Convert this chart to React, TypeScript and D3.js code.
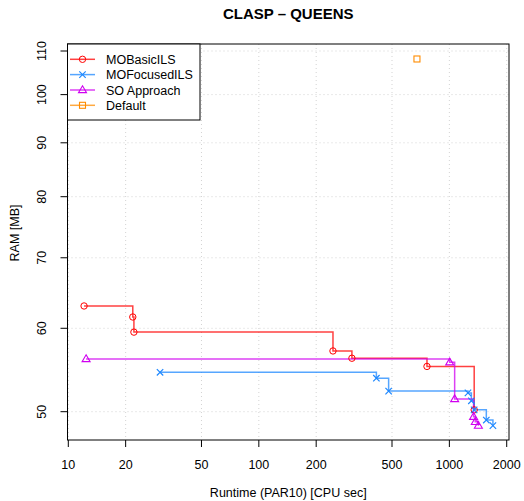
import * as d3 from "d3";

// data (runtime in CPU sec, RAM in MB)
const basicX = [12.1, 21.8, 22.1, 245, 308, 763, 1350];
const basicY = [63.0, 61.5, 59.5, 57.1, 56.2, 55.2, 50.2];
const focusedX = [30.3, 414, 480, 1252, 1305, 1349, 1563, 1693];
const focusedY = [54.5, 53.8, 52.3, 52.1, 51.2, 50.2, 49.1, 48.5];
const soX = [12.4, 1004, 1066, 1340, 1368, 1420];
const soY = [56.1, 55.7, 51.4, 49.45, 48.9, 48.5];
const defaultX = [676];
const defaultY = [108.1];

const xTicks = [10, 20, 50, 100, 200, 500, 1000, 2000];
const yTicks = [50, 60, 70, 80, 90, 100, 110];

const seriesNames = ["MOBasicILS", "MOFocusedILS", "SO Approach", "Default"];
const seriesColors = ["#FF0000", "#1E88FF", "#D000F0", "#FF8C00"];
const seriesShapes = ["circle", "cross", "triangle", "square"];

const W = 524;
const H = 501;
const box = { left: 67.5, right: 509, top: 44, bottom: 440 };
const FONT = "'Liberation Sans', Arial, Helvetica, sans-serif";

type Pt = [number, number];

function Marker({ shape, x, y, color }: { shape: string; x: number; y: number; color: string }) {
  if (shape === "circle")
    return <circle cx={x} cy={y} r={3.2} fill="none" stroke={color} strokeWidth={1} />;
  if (shape === "cross")
    return (
      <path
        d={`M${x - 3.2},${y - 3.2}L${x + 3.2},${y + 3.2}M${x - 3.2},${y + 3.2}L${x + 3.2},${y - 3.2}`}
        stroke={color}
        strokeWidth={1.2}
        fill="none"
      />
    );
  if (shape === "triangle")
    return (
      <path
        d={`M${x},${y - 4.2}L${x + 4},${y + 2.6}L${x - 4},${y + 2.6}Z`}
        stroke={color}
        strokeWidth={1.1}
        fill="none"
      />
    );
  return <rect x={x - 3} y={y - 3} width={6} height={6} stroke={color} strokeWidth={1.1} fill="none" />;
}

export default function App() {
  const x = d3.scaleLog().domain([9.904, 2056]).range([box.left, box.right]);
  const y = d3.scaleLog().domain([47.0, 111.7]).range([box.bottom, box.top]);

  const series: Pt[][] = [
    basicX.map((v, i) => [v, basicY[i]] as Pt),
    focusedX.map((v, i) => [v, focusedY[i]] as Pt),
    soX.map((v, i) => [v, soY[i]] as Pt),
    defaultX.map((v, i) => [v, defaultY[i]] as Pt),
  ];

  const line = d3
    .line<Pt>()
    .x((d) => x(d[0]))
    .y((d) => y(d[1]))
    .curve(d3.curveStepAfter);

  const legendRows = [59.3, 74.6, 90, 105.3];

  return (
    <svg width={W} height={H} style={{ position: "absolute", left: 0, top: 0, background: "#fff" }} fontFamily={FONT}>
      {/* grid */}
      {xTicks.map((t) => (
        <line key={"gx" + t} x1={x(t)} x2={x(t)} y1={box.top} y2={box.bottom} stroke="#d3d3d3" strokeDasharray="1,3" />
      ))}
      {yTicks.map((t) => (
        <line key={"gy" + t} x1={box.left} x2={box.right} y1={y(t)} y2={y(t)} stroke="#d3d3d3" strokeDasharray="1,3" />
      ))}

      {/* step lines */}
      {series.slice(0, 3).map((s, i) => (
        <path key={"l" + i} d={line(s) || ""} fill="none" stroke={seriesColors[i]} strokeOpacity={0.75} strokeWidth={1.5} />
      ))}
      {series.map((s, i) =>
        s.map((d, j) => (
          <Marker key={"m" + i + "-" + j} shape={seriesShapes[i]} x={x(d[0])} y={y(d[1])} color={seriesColors[i]} />
        ))
      )}

      {/* plot box */}
      <rect x={box.left} y={box.top} width={box.right - box.left} height={box.bottom - box.top} fill="none" stroke="#000" strokeWidth={1} />

      {/* x axis */}
      {xTicks.map((t) => (
        <g key={"xt" + t}>
          <line x1={x(t)} x2={x(t)} y1={box.bottom} y2={box.bottom + 7} stroke="#000" />
          <text x={x(t)} y={468.5} textAnchor="middle" fontSize={12.5}>
            {t}
          </text>
        </g>
      ))}
      {/* y axis */}
      {yTicks.map((t) => (
        <g key={"yt" + t}>
          <line x1={box.left - 7} x2={box.left} y1={y(t)} y2={y(t)} stroke="#000" />
          <text transform={`translate(46,${y(t)}) rotate(-90)`} textAnchor="middle" fontSize={12.5}>
            {t}
          </text>
        </g>
      ))}

      {/* titles */}
      <text x={(box.left + box.right) / 2} y={18.5} textAnchor="middle" fontSize={15} fontWeight="bold">
        CLASP – QUEENS
      </text>
      <text x={(box.left + box.right) / 2} y={497} textAnchor="middle" fontSize={12.5}>
        Runtime (PAR10) [CPU sec]
      </text>
      <text transform={`translate(19,233) rotate(-90)`} textAnchor="middle" fontSize={12.5}>
        RAM [MB]
      </text>

      {/* legend */}
      <rect x={box.left} y={box.top} width={200 - box.left} height={120 - box.top} fill="#fff" stroke="#000" strokeWidth={1} />
      {seriesNames.map((name, i) => (
        <g key={"lg" + i}>
          <line x1={70} x2={95} y1={legendRows[i]} y2={legendRows[i]} stroke={seriesColors[i]} strokeOpacity={0.75} strokeWidth={1.5} />
          <Marker shape={seriesShapes[i]} x={82.5} y={legendRows[i]} color={seriesColors[i]} />
          <text x={106} y={legendRows[i] + 4.5} fontSize={12.5}>
            {name}
          </text>
        </g>
      ))}
    </svg>
  );
}
